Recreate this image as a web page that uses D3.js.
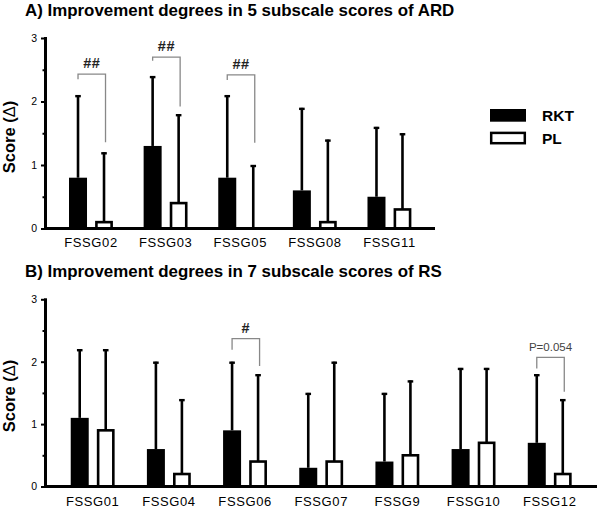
<!DOCTYPE html>
<html>
<head>
<meta charset="utf-8">
<script src="https://cdn.jsdelivr.net/npm/d3@7"></script>
<style>
  html, body { margin: 0; padding: 0; background: #fff; }
  svg { display: block; font-family: "Liberation Sans", Arial, sans-serif; }
</style>
</head>
<body>
<svg id="chart" width="600" height="510"></svg>
<script>
// ---------- DATA ----------
const seriesNames = ["RKT", "PL"];
const yTicks = [0, 1, 2, 3];

// Panel A: ARD
const titleA = "A) Improvement degrees in 5 subscale scores of ARD";
const categoriesA = ["FSSG02", "FSSG03", "FSSG05", "FSSG08", "FSSG11"];
const rktA   = [0.8, 1.3, 0.8, 0.6, 0.5];
const rktSdA = [1.3, 1.1, 1.3, 1.3, 1.1];
const plA    = [0.1, 0.4, 0.0, 0.1, 0.3];
const plSdA  = [1.1, 1.4, 1.0, 1.3, 1.2];
// significance brackets: category, label, bracket top, left end, right end (score units)
const sigA = [
  { cat: "FSSG02", label: "##", top: 2.43, left: 2.35, right: 1.36 },
  { cat: "FSSG03", label: "##", top: 2.70, left: 2.64, right: 1.92 },
  { cat: "FSSG05", label: "##", top: 2.42, left: 2.34, right: 1.35 }
];

// Panel B: RS
const titleB = "B) Improvement degrees in 7 subscale scores of RS";
const categoriesB = ["FSSG01", "FSSG04", "FSSG06", "FSSG07", "FSSG9", "FSSG10", "FSSG12"];
const rktB   = [1.1, 0.6, 0.9, 0.3, 0.4, 0.6, 0.7];
const rktSdB = [1.1, 1.4, 1.1, 1.2, 1.1, 1.3, 1.1];
const plB    = [0.9, 0.2, 0.4, 0.4, 0.5, 0.7, 0.2];
const plSdB  = [1.3, 1.2, 1.4, 1.6, 1.2, 1.2, 1.2];
const sigB = [
  { cat: "FSSG06", label: "#",       top: 2.37, left: 2.19, right: 1.93 },
  { cat: "FSSG12", label: "P=0.054", top: 2.07, left: 1.89, right: 1.52 }
];

// ---------- DRAW ----------
const svg = d3.select("#chart");

function panel(cfg) {
  const g = svg.append("g");
  const y = d3.scaleLinear().domain([0, 3]).range([cfg.bottom, cfg.top]);
  const x0 = d3.scaleBand().domain(cfg.cats).range([cfg.left, cfg.right])
    .paddingInner(0).paddingOuter(cfg.outer);
  const x1 = d3.scaleBand().domain(seriesNames).range([-22, 22]).paddingInner(8 / 26);
  const cx = (cat, s) => x0(cat) + x0.bandwidth() / 2 + x1(s) + x1.bandwidth() / 2;

  // title
  g.append("text").attr("x", 25).attr("y", cfg.titleY)
    .attr("font-size", 16.9).attr("font-weight", "bold").attr("fill", "#000")
    .text(cfg.title);

  // y label
  const yl = g.append("text")
    .attr("transform", `translate(${cfg.ylabX},${cfg.ylabY}) rotate(-90)`)
    .attr("text-anchor", "middle").attr("font-size", 16.5).attr("font-weight", "bold");
  yl.append("tspan").text("Score (");
  yl.append("tspan").attr("font-weight", "normal").text("Δ");
  yl.append("tspan").text(")");

  const rows = cfg.cats.map((c, i) => ({
    cat: c,
    vals: [
      { s: "RKT", v: cfg.rkt[i], sd: cfg.rktSd[i] },
      { s: "PL",  v: cfg.pl[i],  sd: cfg.plSd[i] }
    ]
  }));

  // error bars (upward only)
  rows.forEach(r => r.vals.forEach(d => {
    const xc = cx(r.cat, d.s);
    g.append("line").attr("x1", xc).attr("x2", xc)
      .attr("y1", y(d.v)).attr("y2", y(d.v + d.sd))
      .attr("stroke", "#000").attr("stroke-width", 2.6);
    g.append("line").attr("x1", xc - 2.8).attr("x2", xc + 2.8)
      .attr("y1", y(d.v + d.sd) + 1).attr("y2", y(d.v + d.sd) + 1)
      .attr("stroke", "#000").attr("stroke-width", 2.4);
  }));

  // bars
  rows.forEach(r => r.vals.forEach(d => {
    const xc = cx(r.cat, d.s);
    if (d.s === "RKT") {
      g.append("rect").attr("x", xc - 9).attr("width", 18)
        .attr("y", y(d.v)).attr("height", y(0) - y(d.v)).attr("fill", "#000");
    } else if (d.v > 0) {
      g.append("rect").attr("x", xc - 7.6).attr("width", 15.2)
        .attr("y", y(d.v)).attr("height", y(0) - y(d.v))
        .attr("fill", "#fff").attr("stroke", "#000").attr("stroke-width", 2.6);
    }
  }));

  // significance brackets
  cfg.sig.forEach(b => {
    const xl = cx(b.cat, "RKT"), xr = cx(b.cat, "PL") + 1.5;
    g.append("path")
      .attr("d", `M${xl},${y(b.left)}V${y(b.top)}H${xr}V${y(b.right)}`)
      .attr("fill", "none").attr("stroke", "#888").attr("stroke-width", 1.3);
    const isP = b.label.startsWith("P");
    g.append("text").attr("x", (xl + xr) / 2).attr("y", y(b.top) - 6)
      .attr("text-anchor", "middle")
      .attr("font-size", isP ? 11.5 : 14.5)
      .attr("font-weight", isP ? "normal" : "bold")
      .attr("letter-spacing", isP ? 0 : 0.5)
      .attr("fill", isP ? "#444" : "#222")
      .text(b.label);
  });

  // y axis
  const yAxis = d3.axisLeft(y).tickValues(yTicks).tickFormat(d3.format("d"))
    .tickSize(4.5).tickSizeOuter(0).tickPadding(4);
  const ya = g.append("g").attr("transform", `translate(${cfg.left},0)`).call(yAxis);
  ya.select(".domain").remove();
  ya.selectAll(".tick line").attr("stroke", "#000").style("stroke-width", "2px");
  ya.selectAll(".tick text").attr("font-size", 10.5).attr("fill", "#000")
    .attr("font-family", "Liberation Sans, Arial, sans-serif");
  // minor ticks
  const minor = d3.axisLeft(y).tickValues(d3.range(0.5, 3, 1)).tickFormat("").tickSize(3).tickSizeOuter(0);
  const ym = g.append("g").attr("transform", `translate(${cfg.left},0)`).call(minor);
  ym.select(".domain").remove();
  ym.selectAll(".tick line").attr("stroke", "#000").style("stroke-width", "2px");
  // thick axis line
  g.append("line").attr("x1", cfg.left).attr("x2", cfg.left)
    .attr("y1", y(3) - 1).attr("y2", y(0))
    .attr("stroke", "#000").style("stroke-width", "3px");

  // x axis labels
  const xAxis = d3.axisBottom(x0).tickSize(0).tickSizeOuter(0).tickPadding(cfg.labPad);
  const xa = g.append("g").attr("transform", `translate(0,${y(0)})`).call(xAxis);
  xa.select(".domain").remove();
  xa.selectAll(".tick text").attr("font-size", 13).attr("letter-spacing", 0.6)
    .attr("font-family", "Liberation Sans, Arial, sans-serif").attr("fill", "#000");
  // thick baseline
  g.append("line").attr("x1", cfg.left - 1.5).attr("x2", cfg.right)
    .attr("y1", y(0)).attr("y2", y(0))
    .attr("stroke", "#000").style("stroke-width", "3px");

  return { x0, y };
}

panel({
  title: titleA, titleY: 16, cats: categoriesA,
  rkt: rktA, rktSd: rktSdA, pl: plA, plSd: plSdA, sig: sigA,
  left: 45.5, right: 435, top: 38, bottom: 228.5, outer: 0.11, ylabX: 15, ylabY: 137, labPad: 9
});
panel({
  title: titleB, titleY: 277, cats: categoriesB,
  rkt: rktB, rktSd: rktSdB, pl: plB, plSd: plSdB, sig: sigB,
  left: 45.5, right: 597, top: 299.3, bottom: 486.5, outer: 0.12, ylabX: 15, ylabY: 396, labPad: 10
});

// legend
const legend = svg.append("g");
seriesNames.forEach((s, i) => {
  const yy = 109 + i * 22.7;
  if (s === "RKT") {
    legend.append("rect").attr("x", 490).attr("y", yy).attr("width", 36).attr("height", 12.7).attr("fill", "#000");
  } else {
    legend.append("rect").attr("x", 491.2).attr("y", yy + 1.2).attr("width", 33.6).attr("height", 10.3)
      .attr("fill", "#fff").attr("stroke", "#000").attr("stroke-width", 2.5);
  }
  legend.append("text").attr("x", 542).attr("y", yy + 11.8)
    .attr("font-size", 15.5).attr("font-weight", "bold").text(s);
});
</script>
</body>
</html>
